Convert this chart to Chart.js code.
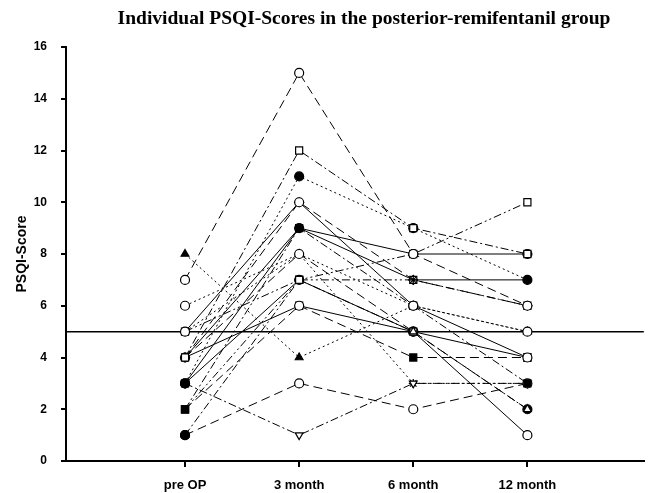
<!DOCTYPE html>
<html>
<head>
<meta charset="utf-8">
<script src="https://cdn.jsdelivr.net/npm/chart.js@4/dist/chart.umd.min.js"></script>
<style>
  html, body { margin: 0; padding: 0; background: #fff; }
</style>
</head>
<body>
<canvas id="psqiChart" width="650" height="493"></canvas>
<script>
// time points on the x axis
const timepoints = ['pre OP', '3 month', '6 month', '12 month'];
const yTicks = [0, 2, 4, 6, 8, 10, 12, 14, 16];
const cutoff = 5;

// individual PSQI scores (pre OP, 3, 6, 12 month)
const patient01 = [7, 15, 8, 6];
const patient02 = [4, 12, 9, 8];
const patient03 = [3, 11, 9, 7];
const patient04 = [5, 10, 6, 4];
const patient05 = [4, 9, 7, 7];
const patient06 = [3, 9, 8, 8];
const patient07 = [2, 9, 6, 3];
const patient08 = [6, 8, 6, 5];
const patient09 = [4, 8, 5, 2];
const patient10 = [5, 7, 7, 6];
const patient11 = [3, 7, 5, 4];
const patient12 = [1, 7, 5, 2];
const patient13 = [4, 6, 5, 1];
const patient14 = [2, 6, 4, 4];
const patient15 = [8, 4, 6, 5];
const patient16 = [1, 3, 2, 3];
const patient17 = [3, 1, 3, 3];
const patient18 = [2, 7, 8, 10];
const patient19 = [5, 8, 3, 3];
const patient20 = [4, 10, 7, 6];

const patients = [patient01, patient02, patient03, patient04, patient05, patient06, patient07,
  patient08, patient09, patient10, patient11, patient12, patient13, patient14, patient15,
  patient16, patient17, patient18, patient19, patient20];

// look of each line: marker, filled or not, dash pattern
const DASH = [9, 5], DOT = [2, 3], DASHDOT = [8, 3, 2, 3], DASHDOTDOT = [8, 3, 2, 3, 2, 3], SOLID = [];
const looks = [
  ['circle', false, DASH, 0],
  ['rect', false, DASHDOT, 0],
  ['circle', true, DOT, 0],
  ['circle', false, SOLID, 0],
  ['star', true, SOLID, 0],
  ['circle', true, SOLID, 0],
  ['rect', true, DASHDOT, 0],
  ['circle', false, DOT, 0],
  ['triangle', false, DASH, 0],
  ['rect', false, DASHDOTDOT, 0],
  ['rect', false, SOLID, 0],
  ['circle', true, DASHDOT, 0],
  ['circle', false, SOLID, 0],
  ['rect', true, DASH, 0],
  ['triangle', true, DOT, 0],
  ['circle', false, DASH, 0],
  ['triangle', false, DASHDOT, 180],
  ['rect', false, DASHDOTDOT, 0],
  ['star', false, DOT, 0],
  ['rectRot', false, DASH, 0]
];

const datasets = patients.map((vals, i) => {
  const [style, filled, dash, rot] = looks[i];
  return {
    data: vals.map((v, j) => ({ x: j + 1, y: v })),
    borderColor: '#000',
    borderWidth: 1,
    borderDash: dash,
    pointStyle: style,
    pointRotation: rot,
    pointRadius: style === 'rect' ? 5 : 4.5,
    pointBorderWidth: 1.2,
    pointBorderColor: '#000',
    pointBackgroundColor: filled ? '#000' : '#fff',
    tension: 0
  };
});

// horizontal cut-off line
datasets.push({
  data: [{ x: -0.1, y: cutoff }, { x: 5.1, y: cutoff }],
  borderColor: '#000',
  borderWidth: 1.5,
  pointRadius: 0,
  order: 99
});

const titlePlugin = {
  id: 'topTitle',
  afterDraw(chart) {
    const c = chart.ctx;
    c.save();
    c.fillStyle = '#000';
    c.font = 'bold 19.5px "Liberation Serif", "Times New Roman", serif';
    c.textAlign = 'center';
    c.textBaseline = 'middle';
    c.fillText('Individual PSQI-Scores in the posterior-remifentanil group', 364, 19);
    c.restore();
  }
};

new Chart(document.getElementById('psqiChart'), {
  type: 'line',
  data: { datasets: datasets },
  plugins: [titlePlugin],
  options: {
    responsive: false,
    animation: false,
    layout: { padding: { top: 47, right: 2, left: 0, bottom: 0 } },
    plugins: { legend: { display: false }, tooltip: { enabled: false } },
    scales: {
      x: {
        type: 'linear',
        min: -0.043,
        max: 5.02,
        afterBuildTicks: (scale) => { scale.ticks = [1, 2, 3, 4].map(v => ({ value: v })); },
        afterFit: (scale) => { scale.height = 32; },
        ticks: {
          callback: (v) => timepoints[v - 1],
          color: '#000',
          font: { family: '"Liberation Sans", Arial, sans-serif', weight: 'bold', size: 13 },
          padding: 11,
          maxRotation: 0
        },
        grid: { drawOnChartArea: false, tickLength: 6, color: '#000', lineWidth: 2 },
        border: { color: '#000', width: 2 }
      },
      y: {
        min: 0,
        max: 16,
        afterBuildTicks: (scale) => { scale.ticks = yTicks.map(v => ({ value: v })); },
        afterFit: (scale) => { scale.width = 66; },
        ticks: {
          color: '#000',
          font: { family: '"Liberation Sans", Arial, sans-serif', weight: 'bold', size: 12 },
          padding: 14
        },
        title: {
          display: true,
          text: 'PSQI-Score',
          color: '#000',
          font: { family: '"Liberation Sans", Arial, sans-serif', weight: 'bold', size: 14 },
          padding: { top: 14, bottom: 0 }
        },
        grid: { drawOnChartArea: false, tickLength: 5, color: '#000', lineWidth: 2 },
        border: { color: '#000', width: 2 }
      }
    }
  }
});
</script>
</body>
</html>
